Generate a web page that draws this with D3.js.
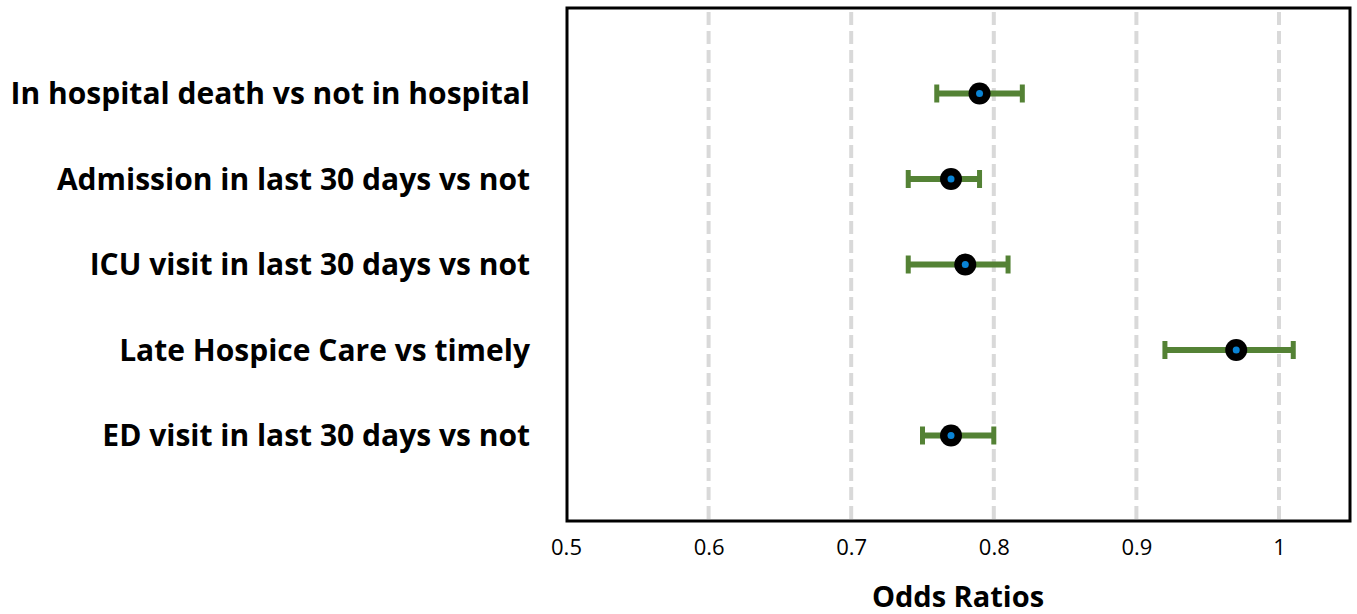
<!DOCTYPE html>
<html><head><meta charset="utf-8">
<script src="https://cdn.jsdelivr.net/npm/d3@7"></script>
<style>body{margin:0;background:#fff}svg{display:block}</style>
</head><body>
<script>
const categories = ["In hospital death vs not in hospital","Admission in last 30 days vs not","ICU visit in last 30 days vs not","Late Hospice Care vs timely","ED visit in last 30 days vs not"];
const oddsRatios = [0.79, 0.77, 0.78, 0.97, 0.77];
const lowerCI = [0.76, 0.74, 0.74, 0.92, 0.75];
const upperCI = [0.82, 0.79, 0.81, 1.01, 0.80];
const tickValues = [0.5, 0.6, 0.7, 0.8, 0.9, 1];

const W = 1357, H = 614;
const svg = d3.select("body").append("svg").attr("width", W).attr("height", H);
const pLeft = 567, pRight = 1350, pTop = 8, pBottom = 521;
const x = d3.scaleLinear().domain([0.5, 1.0]).range([566, 1279]);
const y = d3.scaleLinear().domain([0, 6]).range([pTop, pBottom]);

// gridlines
svg.append("g").selectAll("line").data(tickValues.slice(1)).join("line")
  .attr("x1", d => x(d)).attr("x2", d => x(d)).attr("y1", pTop + 4).attr("y2", pBottom)
  .attr("stroke", "#d9d9d9").attr("stroke-width", 4).attr("stroke-dasharray", "13,6");

// frame
svg.append("rect").attr("x", pLeft).attr("y", pTop).attr("width", pRight - pLeft).attr("height", pBottom - pTop)
  .attr("fill", "none").attr("stroke", "#000").attr("stroke-width", 3);

// x axis
const xAxis = d3.axisBottom(x).tickValues(tickValues).tickSize(0).tickPadding(18)
  .tickFormat(d => d === 1 ? "1" : d3.format(".1f")(d));
const ga = svg.append("g").attr("transform", `translate(0,${pBottom})`).call(xAxis);
ga.select(".domain").remove();
ga.selectAll("text").attr("font-family", "'Open Sans', sans-serif").attr("font-size", 22).attr("fill", "#000");

svg.append("text").attr("x", 958).attr("y", 607).attr("text-anchor", "middle")
  .attr("font-family", "'Open Sans', sans-serif").attr("font-weight", "bold").attr("font-size", 29)
  .text("Odds Ratios");

// category labels
svg.append("g").selectAll("text").data(categories).join("text")
  .attr("x", 530).attr("y", (d, i) => y(i + 1)).attr("dy", "0.35em").attr("text-anchor", "end")
  .attr("font-family", "'Open Sans', sans-serif").attr("font-weight", "bold").attr("font-size", 30)
  .attr("fill", "#000").text(d => d);

const data = categories.map((c, i) => ({c, i, or: oddsRatios[i], lo: lowerCI[i], hi: upperCI[i]}));
const g = svg.append("g");
const green = "#548235";
g.selectAll(".bar").data(data).join("line")
  .attr("x1", d => x(d.lo)).attr("x2", d => x(d.hi)).attr("y1", d => y(d.i + 1)).attr("y2", d => y(d.i + 1))
  .attr("stroke", green).attr("stroke-width", 6);
g.selectAll(".capl").data(data).join("line")
  .attr("x1", d => x(d.lo)).attr("x2", d => x(d.lo)).attr("y1", d => y(d.i + 1) - 9).attr("y2", d => y(d.i + 1) + 9)
  .attr("stroke", green).attr("stroke-width", 5);
g.selectAll(".capr").data(data).join("line")
  .attr("x1", d => x(d.hi)).attr("x2", d => x(d.hi)).attr("y1", d => y(d.i + 1) - 9).attr("y2", d => y(d.i + 1) + 9)
  .attr("stroke", green).attr("stroke-width", 5);
g.selectAll(".pt").data(data).join("circle")
  .attr("cx", d => x(d.or)).attr("cy", d => y(d.i + 1)).attr("r", 11).attr("fill", "#000");
g.selectAll(".ptc").data(data).join("circle")
  .attr("cx", d => x(d.or)).attr("cy", d => y(d.i + 1)).attr("r", 3.5).attr("fill", "#0a84d6");
</script>
</body></html>
